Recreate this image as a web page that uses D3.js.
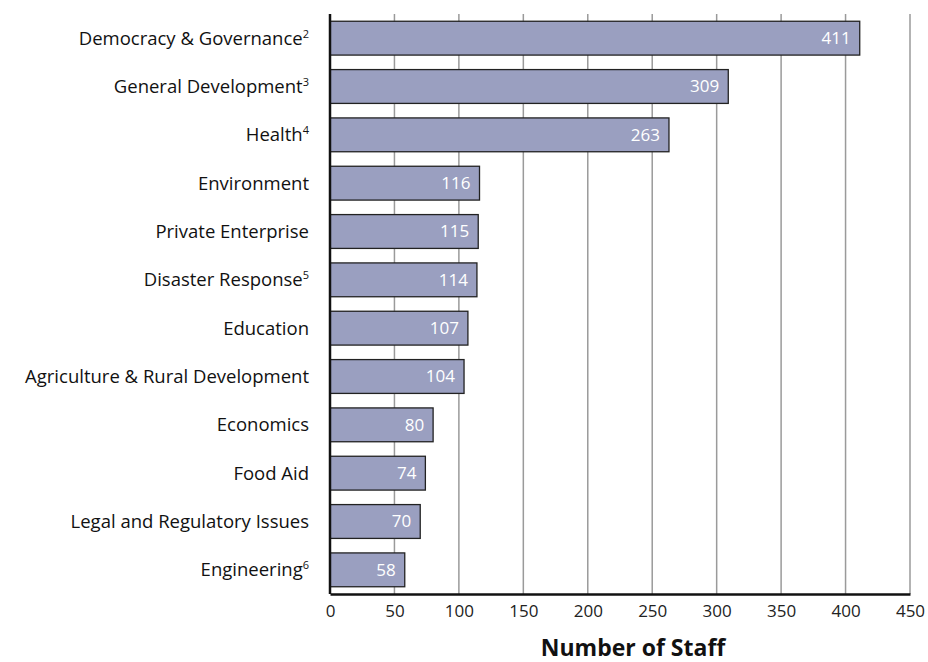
<!DOCTYPE html>
<html>
<head>
<meta charset="utf-8">
<script src="https://cdn.jsdelivr.net/npm/d3@7"></script>
<style>
  body { margin: 0; background: #fff; }
  text { font-family: "Open Sans", Lato, sans-serif; }
</style>
</head>
<body>
<div id="chart"></div>
<script>
// data
var categories = ["Democracy & Governance", "General Development", "Health", "Environment",
  "Private Enterprise", "Disaster Response", "Education", "Agriculture & Rural Development",
  "Economics", "Food Aid", "Legal and Regulatory Issues", "Engineering"];
var footnotes = ["2", "3", "4", "", "", "5", "", "", "", "", "", "6"];
var staff = [411, 309, 263, 116, 115, 114, 107, 104, 80, 74, 70, 58];
var tickValues = [0, 50, 100, 150, 200, 250, 300, 350, 400, 450];

var svgWidth = 928;
var svgHeight = 662;
var margin = { top: 14, right: 18, bottom: 68, left: 330 };
var chartWidth = svgWidth - margin.left - margin.right;
var chartHeight = svgHeight - margin.top - margin.bottom;

var svg = d3.select("#chart")
  .append("svg")
  .attr("width", svgWidth)
  .attr("height", svgHeight);

var chartGroup = svg.append("g")
  .attr("transform", `translate(${margin.left}, ${margin.top})`);

var xScale = d3.scaleLinear()
  .domain([0, 450])
  .range([0, chartWidth]);

var yScale = d3.scaleBand()
  .domain(categories)
  .range([0, chartHeight])
  .paddingInner(0.3)
  .paddingOuter(0.15);

// gridlines
chartGroup.selectAll(".grid")
  .data(tickValues.slice(1))
  .enter().append("line")
    .attr("x1", d => xScale(d))
    .attr("x2", d => xScale(d))
    .attr("y1", 0)
    .attr("y2", chartHeight)
    .attr("stroke", "#9a9a9a")
    .attr("stroke-width", 1.5);

// bars
chartGroup.selectAll("rect")
  .data(staff)
  .enter().append("rect")
    .attr("x", 0)
    .attr("y", (d, i) => yScale(categories[i]))
    .attr("width", d => xScale(d))
    .attr("height", yScale.bandwidth())
    .attr("fill", "#9a9fc0")
    .attr("stroke", "#222")
    .attr("stroke-width", 1.3);

// value labels
chartGroup.selectAll(".val")
  .data(staff)
  .enter().append("text")
    .attr("class", "val")
    .attr("x", d => xScale(d) - 9)
    .attr("y", (d, i) => yScale(categories[i]) + yScale.bandwidth() / 2)
    .attr("dy", "0.35em")
    .attr("text-anchor", "end")
    .attr("fill", "#fff")
    .attr("font-size", 17)
    .text(d => d);

// axes
var bottomAxis = d3.axisBottom(xScale).tickValues(tickValues).tickSize(0).tickPadding(11);
var xAxisG = chartGroup.append("g")
  .attr("transform", `translate(0, ${chartHeight})`)
  .call(bottomAxis);
xAxisG.select(".domain").attr("stroke", "#111").attr("stroke-width", 2.5);
xAxisG.selectAll("text").attr("font-size", 17).attr("fill", "#222")
  .style("font-family", "'Open Sans', sans-serif");

chartGroup.append("line")
  .attr("x1", 0).attr("x2", 0)
  .attr("y1", 0).attr("y2", chartHeight)
  .attr("stroke", "#111")
  .attr("stroke-width", 2.5);

// category labels with footnote superscripts
var labels = chartGroup.selectAll(".cat")
  .data(categories)
  .enter().append("text")
    .attr("class", "cat")
    .attr("x", -21)
    .attr("y", d => yScale(d) + yScale.bandwidth() / 2)
    .attr("dy", "0.35em")
    .attr("text-anchor", "end")
    .attr("font-size", 18.5)
    .attr("fill", "#111");
labels.append("tspan").text(d => d);
labels.append("tspan")
  .attr("font-size", 11)
  .attr("baseline-shift", "super")
  .text((d, i) => footnotes[i]);

// axis title
svg.append("text")
  .attr("x", 633)
  .attr("y", 656)
  .attr("text-anchor", "middle")
  .attr("font-size", 23)
  .attr("font-weight", "bold")
  .attr("fill", "#111")
  .text("Number of Staff");
</script>
</body>
</html>
